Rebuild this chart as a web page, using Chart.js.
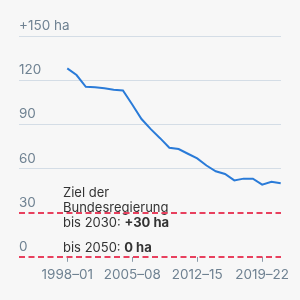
<!DOCTYPE html>
<html>
<head>
<meta charset="utf-8">
<script src="https://cdn.jsdelivr.net/npm/chart.js@4/dist/chart.umd.min.js"></script>
<style>
  html, body { margin: 0; padding: 0; background: #f7f7f7; }
  canvas { display: block; }
</style>
</head>
<body>
<canvas id="chart" width="300" height="300"></canvas>
<script>
// 4-year periods, daily growth of settlement & transport area (ha)
const periods = [
  '1998–01', '1999–02', '2000–03', '2001–04', '2002–05', '2003–06',
  '2004–07', '2005–08', '2006–09', '2007–10', '2008–11', '2009–12',
  '2010–13', '2011–14', '2012–15', '2013–16', '2014–17', '2015–18',
  '2016–19', '2017–20', '2018–21', '2019–22', '2020–23', '2021–24',
];
const hectares = [
  128, 123.5, 115.5, 115.2, 114.5, 113.5,
  113, 103.5, 93.6, 86.7, 80.6, 74.1,
  73.2, 70, 66.8, 62, 58.1, 56.3,
  51.9, 53.1, 53.1, 49, 51, 50,
];
const yTicks = [0, 30, 60, 90, 120, 150];
const xTickIndex = [0, 7, 14, 21];
const targets = [30, 0];

const greyText = '#6f8292';
const red = '#e8405e';

//dashed target lines + annotation text
const targetPlugin = {
  id: 'targets',
  afterDatasetsDraw(chart) {
    const { ctx, chartArea, scales } = chart;
    ctx.save();
    ctx.fillStyle = '#333';
    ctx.textBaseline = 'alphabetic';
    ctx.textAlign = 'left';
    const y30 = scales.y.getPixelForValue(targets[0]);
    const y0 = scales.y.getPixelForValue(targets[1]);
    const tx = 63;
    ctx.font = '13px Inter';
    ctx.fillText('Ziel der', tx, y30 - 16);
    ctx.fillText('Bundesregierung', tx, y30 - 1);
    let w = ctx.measureText('bis 2030: ').width;
    ctx.fillText('bis 2030: ', tx, y30 + 14);
    ctx.font = 'bold 13px Inter';
    ctx.fillText('+30 ha', tx + w, y30 + 14);
    ctx.font = '13px Inter';
    w = ctx.measureText('bis 2050: ').width;
    ctx.fillText('bis 2050: ', tx, y0 - 5);
    ctx.font = 'bold 13px Inter';
    ctx.fillText('0 ha', tx + w, y0 - 5);

    ctx.strokeStyle = red;
    ctx.lineWidth = 2;
    ctx.setLineDash([6, 3.5]);
    targets.forEach((t) => {
      const y = Math.round(scales.y.getPixelForValue(t));
      ctx.beginPath();
      ctx.moveTo(chartArea.left, y);
      ctx.lineTo(chartArea.right, y);
      ctx.stroke();
    });
    ctx.restore();
  },
};

const ctx = document.getElementById('chart');
new Chart(ctx, {
  type: 'line',
  data: {
    datasets: [
      {
        data: hectares.map((v, i) => ({ x: i, y: v })),
        borderColor: '#2a7bd8',
        borderWidth: 2,
        pointRadius: 0,
        tension: 0,
      },
    ],
  },
  options: {
    responsive: false,
    animation: false,
    layout: { padding: { left: 19, right: 19, top: 36, bottom: 12 } },
    plugins: { legend: { display: false }, tooltip: { enabled: false } },
    scales: {
      x: {
        type: 'linear',
        min: -5.2,
        max: 23.03,
        afterBuildTicks: (axis) => {
          axis.ticks = xTickIndex.map((v) => ({ value: v }));
        },
        ticks: {
          autoSkip: false,
          maxRotation: 0,
          padding: 5,
          color: greyText,
          font: { family: 'Inter', size: 13.5 },
          callback: (v) => periods[v],
        },
        grid: {
          drawOnChartArea: false,
          drawTicks: true,
          tickLength: 5,
          tickColor: '#8a9aa8',
        },
        border: { display: false },
      },
      y: {
        min: 0,
        max: 150,
        afterBuildTicks: (axis) => {
          axis.ticks = yTicks.map((v) => ({ value: v }));
        },
        ticks: {
          mirror: true,
          padding: 0,
          labelOffset: -10,
          color: greyText,
          font: { family: 'Inter', size: 13.5 },
          callback: (v) => (v === 150 ? '+150 ha' : v),
        },
        grid: {
          drawTicks: false,
          color: (c) => (c.tick && targets.includes(c.tick.value) ? 'rgba(0,0,0,0)' : '#d4dde6'),
          lineWidth: 1,
        },
        border: { display: false },
      },
    },
  },
  plugins: [targetPlugin],
});
</script>
</body>
</html>
